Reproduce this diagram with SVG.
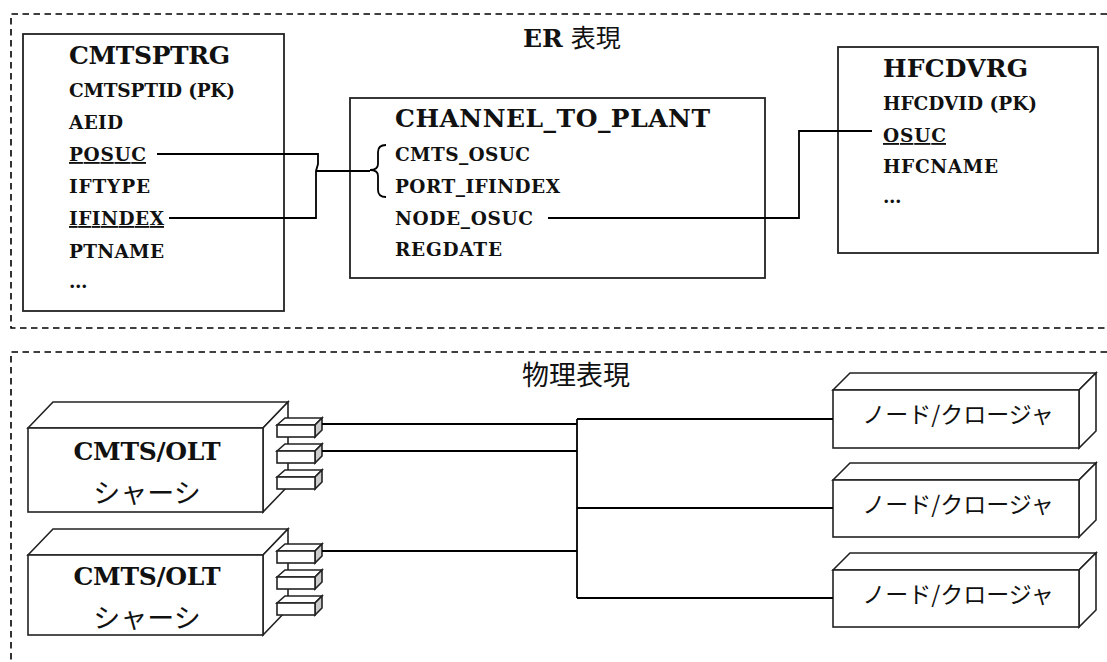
<svg xmlns="http://www.w3.org/2000/svg" width="1107" height="662" viewBox="0 0 1107 662">
<style>
.frame{fill:none;stroke:#000;stroke-width:1.6;stroke-dasharray:6.5 4.5}
.box{fill:#fff;stroke:#222;stroke-width:1.8}
.conn{fill:none;stroke:#000;stroke-width:1.8}
.side{fill:#ccc;stroke:#222;stroke-width:1.6}
.face{fill:#fff;stroke:#222;stroke-width:1.6}
.ttl{font-family:"DejaVu Serif","Liberation Serif",serif;font-weight:bold;font-size:25px;fill:#111}
.fld{font-family:"DejaVu Serif","Liberation Serif",serif;font-weight:bold;font-size:18.5px;fill:#111}
.u{text-decoration:underline}
.jp{font-family:"Noto Sans CJK JP","Noto Sans",sans-serif;fill:#111}
</style>
<g id="frames">
<path class="frame" d="M1107,14 H11 V328 H1107"/>
<path class="frame" d="M1107,352 H11 V662"/>
</g>
<g id="titles">
<text x="523" y="47" class="ttl">ER<tspan class="jp" font-weight="normal" font-size="25" dx="8">表現</tspan></text>
<text x="522" y="385" class="jp" font-size="27">物理表現</text>
</g>
<g id="cmtsptrg">
<rect class="box" x="23" y="34" width="261" height="277"/>
<text class="ttl" x="69" y="64" textLength="161">CMTSPTRG</text>
<text class="fld" x="69" y="97" textLength="166">CMTSPTID (PK)</text>
<text class="fld" x="69" y="129" textLength="54">AEID</text>
<text class="fld u" x="69" y="161" textLength="77">POSUC</text>
<text class="fld" x="69" y="193" textLength="81">IFTYPE</text>
<text class="fld u" x="69" y="225" textLength="95">IFINDEX</text>
<text class="fld" x="69" y="258" textLength="95">PTNAME</text>
<text class="fld" x="69" y="288">…</text>
</g>
<g id="channel_to_plant">
<rect class="box" x="350" y="98" width="415" height="180"/>
<text class="ttl" x="395" y="127" textLength="315">CHANNEL_TO_PLANT</text>
<text class="fld" x="395" y="161" textLength="135">CMTS_OSUC</text>
<text class="fld" x="395" y="193" textLength="165">PORT_IFINDEX</text>
<text class="fld" x="395" y="225" textLength="138">NODE_OSUC</text>
<text class="fld" x="395" y="256" textLength="107">REGDATE</text>
</g>
<g id="hfcdvrg">
<rect class="box" x="838" y="47" width="260" height="206"/>
<text class="ttl" x="883" y="77" textLength="145">HFCDVRG</text>
<text class="fld" x="883" y="110" textLength="154">HFCDVID (PK)</text>
<text class="fld u" x="883" y="142" textLength="63">OSUC</text>
<text class="fld" x="883" y="173" textLength="115">HFCNAME</text>
<text class="fld" x="883" y="203">…</text>
</g>
<defs>
<g id="port">
<polygon class="face" points="0,0 8,-7 45,-7 38,0"/>
<polygon class="side" points="38,0 45,-7 45,5 38,12"/>
<rect class="face" x="0" y="0" width="38" height="12"/>
</g>
</defs>
<g id="chassis1">
<polygon class="face" points="28,428 53,402 288,402 263,428"/>
<polygon class="face" points="263,428 288,402 288,486 263,512"/>
<rect class="face" x="28" y="428" width="235" height="84"/>
<use href="#port" x="277" y="425"/>
<use href="#port" x="277" y="451"/>
<use href="#port" x="277" y="477"/>
<text class="ttl" x="147" y="460" text-anchor="middle" font-size="22" textLength="147">CMTS/OLT</text>
<text class="jp" x="147" y="503" text-anchor="middle" font-size="27">シャーシ</text>
</g>
<g id="chassis2">
<polygon class="face" points="28,555 53,529 288,529 263,555"/>
<polygon class="face" points="263,555 288,529 288,609 263,635"/>
<rect class="face" x="28" y="555" width="235" height="80"/>
<use href="#port" x="277" y="551"/>
<use href="#port" x="277" y="577"/>
<use href="#port" x="277" y="603"/>
<text class="ttl" x="147" y="585" text-anchor="middle" font-size="22" textLength="147">CMTS/OLT</text>
<text class="jp" x="147" y="628" text-anchor="middle" font-size="27">シャーシ</text>
</g>
<g id="node1">
<polygon class="face" points="833,390 850,373 1096,373 1079,390"/>
<polygon class="face" points="1079,390 1096,373 1096,431 1079,448"/>
<rect class="face" x="833" y="390" width="246" height="58"/>
<text class="jp" x="958" y="423" text-anchor="middle" font-size="23">ノード/クロージャ</text>
</g>
<g id="node2">
<polygon class="face" points="833,480 850,463 1096,463 1079,480"/>
<polygon class="face" points="1079,480 1096,463 1096,520 1079,537"/>
<rect class="face" x="833" y="480" width="246" height="57"/>
<text class="jp" x="958" y="513" text-anchor="middle" font-size="23">ノード/クロージャ</text>
</g>
<g id="node3">
<polygon class="face" points="833,570 850,553 1096,553 1079,570"/>
<polygon class="face" points="1079,570 1096,553 1096,610 1079,627"/>
<rect class="face" x="833" y="570" width="246" height="57"/>
<text class="jp" x="958" y="603" text-anchor="middle" font-size="23">ノード/クロージャ</text>
</g>
<g id="connectors">
<path class="conn" d="M157,154 H318 V164 L316,171 V218 H169"/>
<path class="conn" d="M316,171 H370"/>
<path class="conn" d="M386,145 Q378,145 378,152 V164 Q378,170 370,170 Q378,170 378,176 V190 Q378,197 386,197"/>
<path class="conn" d="M548,218 H799 V131 H872"/>
<path class="conn" d="M322,424 H577 M322,451 H577 M322,551 H577 M577,419 V598 M577,419 H833 M577,508 H833 M577,598 H833"/>
</g>
</svg>
